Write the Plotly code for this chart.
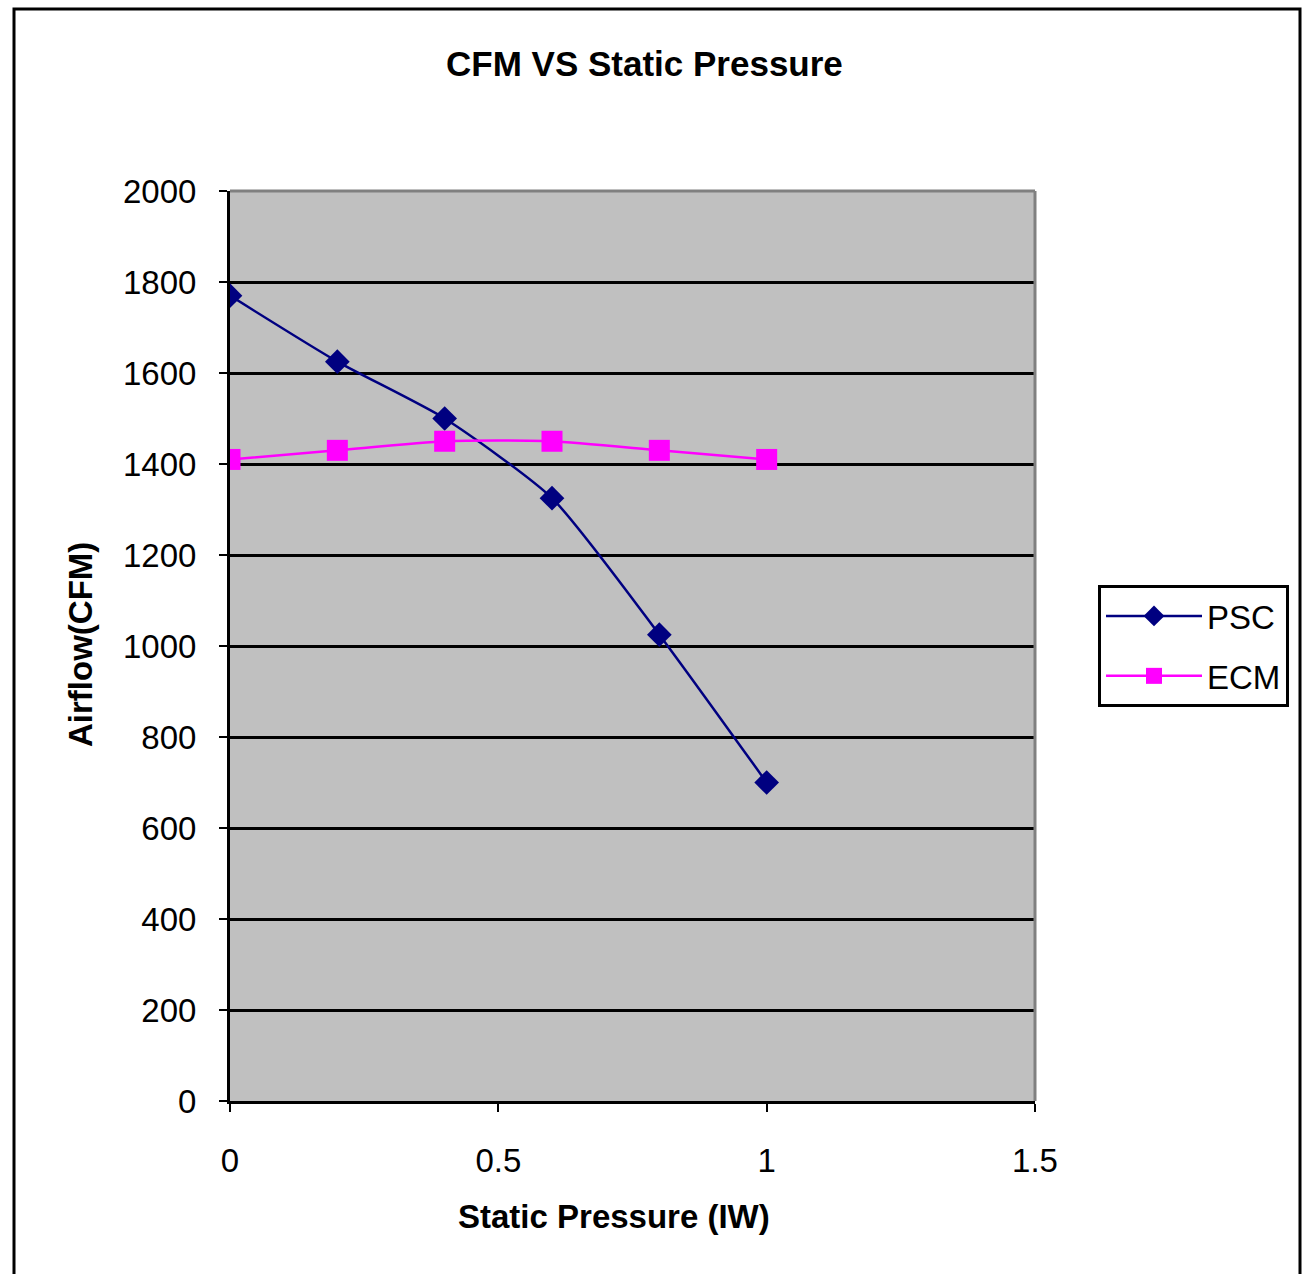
import plotly.graph_objects as go

# Static pressure readings (inches of water)
pressure = [0.0, 0.2, 0.4, 0.6, 0.8, 1.0]
# Airflow for each motor type (CFM)
psc_cfm = [1770, 1625, 1500, 1325, 1025, 700]
ecm_cfm = [1410, 1430, 1450, 1450, 1430, 1410]

x_ticks = [0, 0.5, 1, 1.5]
y_ticks = [0, 200, 400, 600, 800, 1000, 1200, 1400, 1600, 1800, 2000]

W, H = 1307, 1274
L, R, T, B = 230, 1035, 191, 1101


def px(x):
    return (x - L) / (R - L)


def py(y):
    return (B - y) / (B - T)


fig = go.Figure()
fig.add_trace(go.Scatter(
    x=pressure, y=psc_cfm, name="PSC", mode="lines+markers", legendgroup="psc",
    line=dict(color="#000080", width=2.5, shape="spline", smoothing=0.6),
    marker=dict(symbol="diamond", size=19, color="#000080"),
))
fig.add_trace(go.Scatter(
    x=pressure, y=ecm_cfm, name="ECM", mode="lines+markers", legendgroup="ecm",
    line=dict(color="#FF00FF", width=2.5, shape="spline", smoothing=0.6),
    marker=dict(symbol="square", size=21, color="#FF00FF"),
))

axis_font = dict(family="Liberation Sans, Arial, sans-serif", size=33, color="black")

fig.update_layout(
    width=W, height=H,
    margin=dict(l=L, r=W - R, t=T, b=H - B),
    paper_bgcolor="white",
    plot_bgcolor="#C0C0C0",
    showlegend=True,
    legend=dict(
        x=px(1098), y=py(585), xanchor="left", yanchor="top",
        bgcolor="white", bordercolor="black", borderwidth=3,
        font=axis_font, itemwidth=96, tracegroupgap=14,
        itemsizing="trace",
    ),
    xaxis=dict(
        range=[0, 1.5], tickvals=x_ticks, ticktext=["0", "0.5", "1", "1.5"],
        showgrid=False, zeroline=False, showline=True, linecolor="black", linewidth=3,
        ticks="outside", ticklen=8, tickwidth=2, tickcolor="black",
        tickfont=axis_font, ticklabelstandoff=20,
    ),
    yaxis=dict(
        range=[0, 2000], tickvals=y_ticks,
        showgrid=True, gridcolor="black", gridwidth=2.5, zeroline=False,
        showline=True, linecolor="black", linewidth=3,
        ticks="outside", ticklen=8, tickwidth=2, tickcolor="black",
        tickfont=axis_font, ticklabelstandoff=16,
    ),
    shapes=[
        # grey frame on the top and right of the plotting area
        dict(type="line", xref="paper", yref="paper", x0=0, x1=1, y0=1, y1=1,
             line=dict(color="#808080", width=3)),
        dict(type="line", xref="paper", yref="paper", x0=1, x1=1, y0=0, y1=1,
             line=dict(color="#808080", width=3)),
        # outer chart border
        dict(type="rect", xref="paper", yref="paper",
             x0=px(14), x1=px(1300), y0=py(1290), y1=py(9),
             line=dict(color="black", width=3), fillcolor="rgba(0,0,0,0)", layer="below"),
    ],
    annotations=[
        dict(text="<b>CFM VS Static Pressure</b>", xref="paper", yref="paper",
             x=px(644), y=py(63), xanchor="center", yanchor="middle", showarrow=False,
             font=dict(family="Liberation Sans, Arial, sans-serif", size=35, color="black")),
        dict(text="<b>Static Pressure (IW)</b>", xref="paper", yref="paper",
             x=px(614), y=py(1216), xanchor="center", yanchor="middle", showarrow=False,
             font=dict(family="Liberation Sans, Arial, sans-serif", size=33, color="black")),
        dict(text="<b>Airflow(CFM)</b>", xref="paper", yref="paper",
             x=px(80), y=py(645), xanchor="center", yanchor="middle", showarrow=False,
             textangle=-90,
             font=dict(family="Liberation Sans, Arial, sans-serif", size=33, color="black")),
    ],
)

fig.write_html("out.html")
